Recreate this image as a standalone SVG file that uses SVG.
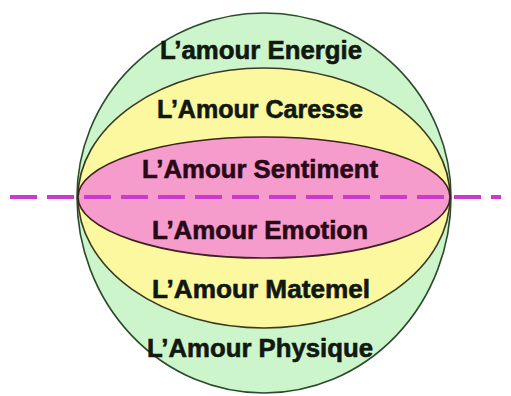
<svg xmlns="http://www.w3.org/2000/svg" width="511" height="396" viewBox="0 0 511 396">
<style>
.lbl{font-family:"Liberation Sans",Arial,sans-serif;font-weight:bold;font-size:25px;text-anchor:middle;stroke-width:0.6}
.dk{fill:#101810;stroke:#101810}
.pk{fill:#2a0818;stroke:#2a0818}
.ring{stroke-width:1.6}
</style>
<rect width="511" height="396" fill="#ffffff"/>
<g id="outer">
<path class="ring" d="M77,197 A187,184 0 0 1 451,197 A187,196 0 0 1 77,197 Z" fill="#ccf5cc" stroke="#2c4a2c"/>
</g>
<g id="middle">
<path class="ring" d="M78,197 A186,129 0 0 1 450,197 A186,131 0 0 1 78,197 Z" fill="#fbf8a0" stroke="#3a3a20"/>
</g>
<g id="inner">
<path class="ring" d="M78,197 A186,60 0 0 1 450,197 A186,61 0 0 1 78,197 Z" fill="#f59ccc" stroke="#402020"/>
</g>
<g id="connectors">
<line x1="10" y1="197" x2="501" y2="197" stroke="#cc3acc" stroke-width="4" stroke-dasharray="27 10"/>
</g>
<g id="labels">
<text class="lbl dk" x="261" y="59" textLength="202" lengthAdjust="spacingAndGlyphs">L’amour Energie</text>
<text class="lbl dk" x="260" y="118" textLength="206" lengthAdjust="spacingAndGlyphs">L’Amour Caresse</text>
<text class="lbl pk" x="260" y="178" textLength="236" lengthAdjust="spacingAndGlyphs">L’Amour Sentiment</text>
<text class="lbl pk" x="260" y="239" textLength="216" lengthAdjust="spacingAndGlyphs">L’Amour Emotion</text>
<text class="lbl dk" x="261" y="298" textLength="218" lengthAdjust="spacingAndGlyphs">L’Amour Matemel</text>
<text class="lbl dk" x="260" y="357" textLength="226" lengthAdjust="spacingAndGlyphs">L’Amour Physique</text>
</g>
</svg>
